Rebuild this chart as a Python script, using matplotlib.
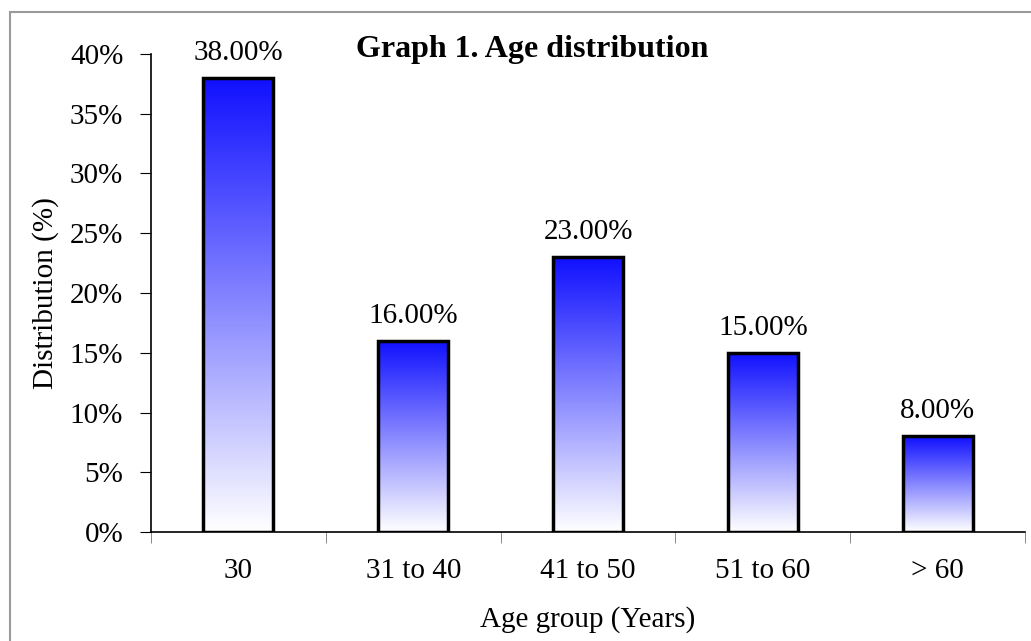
import matplotlib
matplotlib.use("Agg")
import matplotlib.pyplot as plt
import numpy as np
from matplotlib.colors import LinearSegmentedColormap
from matplotlib.patches import Rectangle

age_groups = ["30", "31 to 40", "41 to 50", "51 to 60", "> 60"]
distribution = [38.0, 16.0, 23.0, 15.0, 8.0]
y_ticks = [0, 5, 10, 15, 20, 25, 30, 35, 40]

plt.rcParams["font.family"] = ["Liberation Serif", "DejaVu Serif"]
FS = 21

fig = plt.figure(figsize=(10.31, 6.41), dpi=100)
# gray frame around the chart area
fig.patches.append(Rectangle((10 / 1031, -0.1), 1.2, 1 - 12 / 641 + 0.1,
                             transform=fig.transFigure, fill=False,
                             edgecolor="#9a9a9a", linewidth=1.5))
ax = fig.add_axes([0.1465, 0.170, 0.8477, 0.7458])

cmap = LinearSegmentedColormap.from_list("fade", ["#ffffff", "#1010ff"])
grad = np.linspace(0, 1, 256).reshape(-1, 1)
width = 0.4
x = np.arange(len(age_groups))

for xi, val in zip(x, distribution):
    ax.imshow(grad, cmap=cmap, origin="lower", aspect="auto",
              extent=(xi - width / 2, xi + width / 2, 0, val), zorder=2)
    ax.add_patch(Rectangle((xi - width / 2, 0), width, val, fill=False,
                           edgecolor="black", linewidth=2.5, zorder=3))
    ax.text(xi, val + 1.0, f"{val:.2f}%", ha="center", va="bottom", fontsize=FS)

ax.set_xlim(-0.5, len(age_groups) - 0.5)
ax.set_ylim(0, 40)
ax.set_yticks(y_ticks)
ax.set_yticklabels([f"{t}%" for t in y_ticks], fontsize=FS)
ax.set_xticks(x)
ax.set_xticklabels(age_groups, fontsize=FS)
ax.tick_params(axis="x", which="major", length=0, pad=19)
ax.set_xticks(np.arange(-0.5, len(age_groups)), minor=True)
ax.tick_params(axis="x", which="minor", length=8, direction="out", color="#777777")
ax.tick_params(axis="y", length=8, direction="out", pad=12)

for side in ["top", "right"]:
    ax.spines[side].set_visible(False)
ax.spines["left"].set_linewidth(1.2)
ax.spines["bottom"].set_linewidth(1.2)

ax.set_ylabel("Distribution (%)", fontsize=FS, va="center")
ax.yaxis.set_label_coords(-0.121, 0.5)
ax.set_xlabel("Age group (Years)", fontsize=FS, va="center")
ax.xaxis.set_label_coords(0.5, -0.184)
ax.text(0.436, 1.01, "Graph 1. Age distribution", transform=ax.transAxes,
        ha="center", va="center", fontsize=23, fontweight="bold")

fig.savefig("out.png", dpi=100)
